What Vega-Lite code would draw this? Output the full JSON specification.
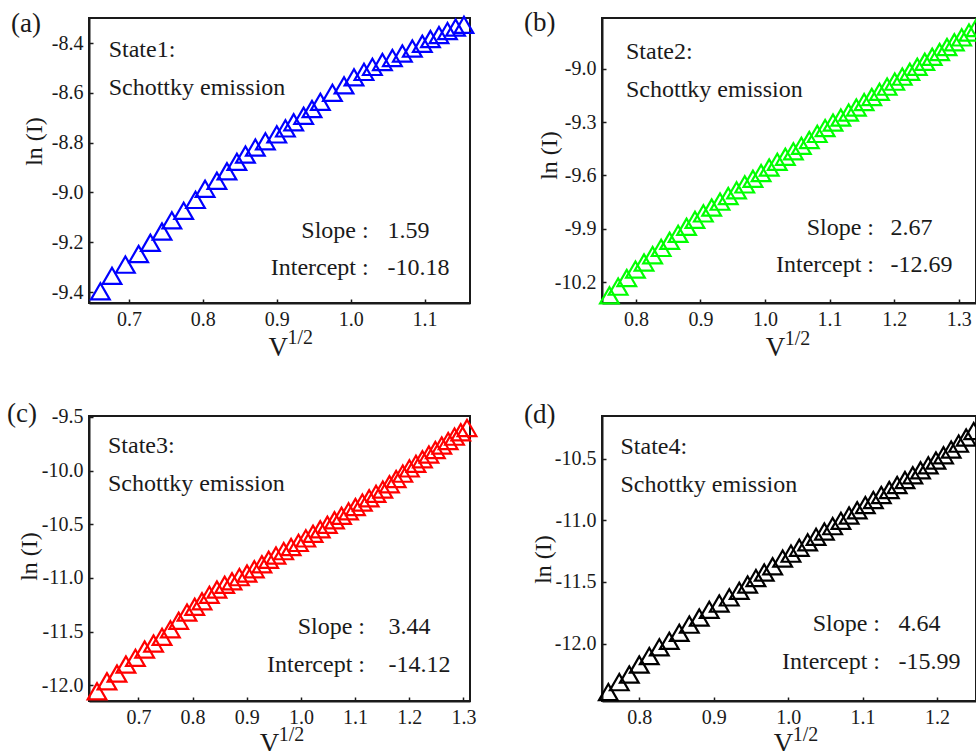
{
"$schema": "https://vega.github.io/schema/vega-lite/v6.json",
"padding": {"left": 6, "top": 8, "right": 0, "bottom": 0},
"background": "white",
"columns": 2,
"spacing": {"row": 113, "column": 132},
"bounds": "flush",
"align": "each",
"config": {
 "font": "Liberation Serif",
 "view": {"stroke": "#1a1a1a", "strokeWidth": 2},
 "axis": {"grid": false, "domainColor": "#1a1a1a", "domainWidth": 2, "tickColor": "#1a1a1a", "tickWidth": 1.5, "tickSize": -4, "labelFont": "Liberation Serif", "labelFontSize": 20, "labelColor": "#1a1a1a", "labelFlush": false, "labelOverlap": false, "titleFont": "Liberation Serif", "titleFontWeight": "normal", "titleColor": "#1a1a1a", "titlePadding": 0, "labelExpr": "replace(datum.label, '−', '-')"},
 "axisX": {"labelPadding": 10, "titleFontSize": 27, "titleBaseline": "alphabetic"},
 "axisY": {"labelPadding": 10, "titleFontSize": 24},
 "text": {"font": "Liberation Serif", "fontSize": 24, "color": "#1a1a1a", "baseline": "alphabetic", "align": "left"},
 "title": {"font": "Liberation Serif", "fontSize": 27, "fontWeight": "normal", "color": "#1a1a1a", "anchor": "start", "frame": "group", "offset": 0, "baseline": "alphabetic"}
},
"concat": [
 {
  "width": 381, "height": 285,
  "title": {"text": "(a)", "dx": -78, "dy": 30},
  "layer": [
   {
    "data": {"values": [
     {"x":0.6613,"y":-9.397},{"x":0.677,"y":-9.335},{"x":0.6951,"y":-9.290},{"x":0.7131,"y":-9.247},{"x":0.729,"y":-9.202},{"x":0.7447,"y":-9.157},{"x":0.758,"y":-9.112},{"x":0.774,"y":-9.074},{"x":0.790,"y":-9.030},{"x":0.803,"y":-8.985},{"x":0.819,"y":-8.953},{"x":0.8326,"y":-8.915},{"x":0.846,"y":-8.877},{"x":0.8576,"y":-8.848},{"x":0.871,"y":-8.820},{"x":0.8846,"y":-8.795},{"x":0.900,"y":-8.767},{"x":0.9117,"y":-8.743},{"x":0.9229,"y":-8.718},{"x":0.9364,"y":-8.692},{"x":0.9477,"y":-8.665},{"x":0.959,"y":-8.636},{"x":0.9753,"y":-8.600},{"x":0.991,"y":-8.570},{"x":1.0045,"y":-8.538},{"x":1.018,"y":-8.516},{"x":1.0294,"y":-8.496},{"x":1.043,"y":-8.476},{"x":1.0565,"y":-8.460},{"x":1.07,"y":-8.442},{"x":1.0835,"y":-8.422},{"x":1.097,"y":-8.403},{"x":1.108,"y":-8.384},{"x":1.1195,"y":-8.368},{"x":1.131,"y":-8.352},{"x":1.142,"y":-8.338},{"x":1.1533,"y":-8.327}
    ]},
    "mark": {"type": "point", "shape": "triangle-up", "filled": false, "size": 350, "strokeWidth": 2.2, "color": "#0000ff", "opacity": 1},
    "encoding": {
     "x": {"field": "x", "type": "quantitative", "scale": {"domain": [0.6459, 1.1615], "nice": false, "zero": false}, "axis": {"values": [0.7, 0.8, 0.9, 1.0, 1.1], "format": ".1f", "title": "V", "titleX": 188.7, "titleY": 52}},
     "y": {"field": "y", "type": "quantitative", "scale": {"domain": [-9.444, -8.2996], "nice": false, "zero": false}, "axis": {"values": [-9.4, -9.2, -9.0, -8.8, -8.6, -8.4], "format": ".1f", "title": "ln (I)", "titleX": -43, "titleY": 123}}
    }
   },
   {"data": {"values": [{}]}, "mark": {"type": "text", "lineHeight": 38}, "encoding": {"x": {"datum": 0.67256}, "y": {"datum": -8.4562}, "text": {"value": ["State1:", "Schottky emission"]}}},
   {"data": {"values": [{}]}, "mark": {"type": "text", "align": "right", "lineHeight": 37}, "encoding": {"x": {"datum": 1.02439}, "y": {"datum": -9.183}, "text": {"value": ["Slope :", "Intercept :"]}}},
   {"data": {"values": [{}]}, "mark": {"type": "text", "lineHeight": 37}, "encoding": {"x": {"datum": 1.04982}, "y": {"datum": -9.183}, "text": {"value": ["1.59", "-10.18"]}}},
   {"data": {"values": [{}]}, "mark": {"type": "text", "fontSize": 20}, "encoding": {"x": {"datum": 0.91444}, "y": {"datum": -9.6086}, "text": {"value": "1/2"}}}
  ]
 },
 {
  "width": 374, "height": 285,
  "title": {"text": "(b)", "dx": -78, "dy": 26},
  "layer": [
   {
    "data": {"values": [
     {"x":0.759,"y":-10.275},{"x":0.7725,"y":-10.226},{"x":0.7859,"y":-10.177},{"x":0.7993,"y":-10.130},{"x":0.8126,"y":-10.090},{"x":0.8259,"y":-10.049},{"x":0.8391,"y":-10.008},{"x":0.8523,"y":-9.968},{"x":0.8654,"y":-9.929},{"x":0.8785,"y":-9.889},{"x":0.8915,"y":-9.850},{"x":0.9045,"y":-9.814},{"x":0.9174,"y":-9.781},{"x":0.9303,"y":-9.748},{"x":0.9431,"y":-9.716},{"x":0.9559,"y":-9.684},{"x":0.9686,"y":-9.651},{"x":0.9813,"y":-9.619},{"x":0.9939,"y":-9.587},{"x":1.0065,"y":-9.556},{"x":1.0190,"y":-9.524},{"x":1.0315,"y":-9.495},{"x":1.0439,"y":-9.465},{"x":1.0563,"y":-9.434},{"x":1.0686,"y":-9.401},{"x":1.0809,"y":-9.367},{"x":1.0931,"y":-9.334},{"x":1.1053,"y":-9.303},{"x":1.1174,"y":-9.275},{"x":1.1295,"y":-9.247},{"x":1.1415,"y":-9.218},{"x":1.1535,"y":-9.188},{"x":1.1654,"y":-9.159},{"x":1.1773,"y":-9.130},{"x":1.1891,"y":-9.101},{"x":1.2009,"y":-9.073},{"x":1.2126,"y":-9.045},{"x":1.2243,"y":-9.017},{"x":1.2359,"y":-8.989},{"x":1.2475,"y":-8.961},{"x":1.2590,"y":-8.933},{"x":1.2705,"y":-8.906},{"x":1.2819,"y":-8.878},{"x":1.2933,"y":-8.851},{"x":1.3046,"y":-8.824},{"x":1.3159,"y":-8.797},{"x":1.3268,"y":-8.771}
    ]},
    "mark": {"type": "point", "shape": "triangle-up", "filled": false, "size": 350, "strokeWidth": 2.2, "color": "#00ff00", "opacity": 1},
    "encoding": {
     "x": {"field": "x", "type": "quantitative", "scale": {"domain": [0.7475, 1.3268], "nice": false, "zero": false}, "axis": {"values": [0.8, 0.9, 1.0, 1.1, 1.2, 1.3], "format": ".1f", "title": "V", "titleX": 173, "titleY": 52}},
     "y": {"field": "y", "type": "quantitative", "scale": {"domain": [-10.318, -8.715], "nice": false, "zero": false}, "axis": {"values": [-10.2, -9.9, -9.6, -9.3, -9.0], "format": ".1f", "title": "ln (I)", "titleX": -41, "titleY": 137}}
    }
   },
   {"data": {"values": [{}]}, "mark": {"type": "text", "lineHeight": 38}, "encoding": {"x": {"datum": 0.78467}, "y": {"datum": -8.9473}, "text": {"value": ["State2:", "Schottky emission"]}}},
   {"data": {"values": [{}]}, "mark": {"type": "text", "align": "right", "lineHeight": 37}, "encoding": {"x": {"datum": 1.16881}, "y": {"datum": -9.9338}, "text": {"value": ["Slope :", "Intercept :"]}}},
   {"data": {"values": [{}]}, "mark": {"type": "text", "lineHeight": 37}, "encoding": {"x": {"datum": 1.19437}, "y": {"datum": -9.9338}, "text": {"value": ["2.67", "-12.69"]}}},
   {"data": {"values": [{}]}, "mark": {"type": "text", "fontSize": 20}, "encoding": {"x": {"datum": 1.03057}, "y": {"datum": -10.5541}, "text": {"value": "1/2"}}}
  ]
 },
 {
  "width": 381, "height": 285,
  "title": {"text": "(c)", "dx": -82, "dy": 25.5},
  "layer": [
   {
    "data": {"values": [
     {"x":0.6236,"y":-12.055},{"x":0.642,"y":-11.962},{"x":0.6605,"y":-11.890},{"x":0.677,"y":-11.806},{"x":0.6945,"y":-11.744},{"x":0.7116,"y":-11.666},{"x":0.728,"y":-11.610},{"x":0.7436,"y":-11.548},{"x":0.759,"y":-11.478},{"x":0.7744,"y":-11.398},{"x":0.7897,"y":-11.322},{"x":0.804,"y":-11.268},{"x":0.8174,"y":-11.216},{"x":0.831,"y":-11.157},{"x":0.845,"y":-11.107},{"x":0.8593,"y":-11.063},{"x":0.8728,"y":-11.030},{"x":0.8864,"y":-10.992},{"x":0.9005,"y":-10.958},{"x":0.914,"y":-10.918},{"x":0.928,"y":-10.872},{"x":0.9405,"y":-10.830},{"x":0.954,"y":-10.790},{"x":0.9682,"y":-10.750},
     {"x":0.9819,"y":-10.711},{"x":0.9955,"y":-10.673},{"x":1.0090,"y":-10.631},{"x":1.0224,"y":-10.588},{"x":1.0357,"y":-10.546},{"x":1.0489,"y":-10.504},{"x":1.0620,"y":-10.462},{"x":1.0750,"y":-10.420},{"x":1.0879,"y":-10.379},{"x":1.1007,"y":-10.338},{"x":1.1134,"y":-10.297},{"x":1.1260,"y":-10.257},{"x":1.1386,"y":-10.216},{"x":1.1511,"y":-10.176},{"x":1.1635,"y":-10.126},{"x":1.1758,"y":-10.077},{"x":1.1880,"y":-10.028},{"x":1.2002,"y":-9.979},{"x":1.2123,"y":-9.936},{"x":1.2243,"y":-9.893},{"x":1.2363,"y":-9.849},{"x":1.2482,"y":-9.807},{"x":1.2600,"y":-9.765},{"x":1.2718,"y":-9.724},{"x":1.2835,"y":-9.683},{"x":1.2951,"y":-9.642},{"x":1.3066,"y":-9.602}
    ]},
    "mark": {"type": "point", "shape": "triangle-up", "filled": false, "size": 350, "strokeWidth": 2.2, "color": "#ff0000", "opacity": 1},
    "encoding": {
     "x": {"field": "x", "type": "quantitative", "scale": {"domain": [0.6088, 1.3121], "nice": false, "zero": false}, "axis": {"values": [0.7, 0.8, 0.9, 1.0, 1.1, 1.2, 1.3], "format": ".1f", "title": "V", "titleX": 180, "titleY": 50}},
     "y": {"field": "y", "type": "quantitative", "scale": {"domain": [-12.146, -9.4907], "nice": false, "zero": false}, "axis": {"values": [-12.0, -11.5, -11.0, -10.5, -10.0, -9.5], "format": ".1f", "title": "ln (I)", "titleX": -48, "titleY": 140}}
    }
   },
   {"data": {"values": [{}]}, "mark": {"type": "text", "lineHeight": 38}, "encoding": {"x": {"datum": 0.64387}, "y": {"datum": -9.8327}, "text": {"value": ["State3:", "Schottky emission"]}}},
   {"data": {"values": [{}]}, "mark": {"type": "text", "align": "right", "lineHeight": 38}, "encoding": {"x": {"datum": 1.11831}, "y": {"datum": -11.5196}, "text": {"value": ["Slope :", "Intercept :"]}}},
   {"data": {"values": [{}]}, "mark": {"type": "text", "lineHeight": 38}, "encoding": {"x": {"datum": 1.16169}, "y": {"datum": -11.5196}, "text": {"value": ["3.44", "-14.12"]}}},
   {"data": {"values": [{}]}, "mark": {"type": "text", "fontSize": 20}, "encoding": {"x": {"datum": 0.95909}, "y": {"datum": -12.52}, "text": {"value": "1/2"}}}
  ]
 },
 {
  "width": 374, "height": 285,
  "title": {"text": "(d)", "dx": -78, "dy": 16.5},
  "layer": [
   {
    "data": {"values": [
     {"x":0.7584,"y":-12.393},{"x":0.7731,"y":-12.312},{"x":0.7866,"y":-12.250},{"x":0.80,"y":-12.169},{"x":0.8134,"y":-12.101},{"x":0.8269,"y":-12.030},{"x":0.8403,"y":-11.977},{"x":0.8537,"y":-11.912},{"x":0.8672,"y":-11.846},{"x":0.8806,"y":-11.788},{"x":0.894,"y":-11.726},{"x":0.9075,"y":-11.674},{"x":0.9209,"y":-11.625},{"x":0.9343,"y":-11.572},{"x":0.9456,"y":-11.520},{"x":0.9567,"y":-11.468},{"x":0.9679,"y":-11.423},{"x":0.9792,"y":-11.372},{"x":0.9926,"y":-11.310},{"x":1.0038,"y":-11.270},{"x":1.015,"y":-11.222},
     {"x":1.0262,"y":-11.178},{"x":1.0375,"y":-11.134},{"x":1.0487,"y":-11.090},{"x":1.0598,"y":-11.047},{"x":1.0709,"y":-11.004},{"x":1.0819,"y":-10.961},{"x":1.0928,"y":-10.918},{"x":1.1037,"y":-10.876},{"x":1.1145,"y":-10.835},{"x":1.1252,"y":-10.794},{"x":1.1359,"y":-10.754},{"x":1.1465,"y":-10.713},{"x":1.1570,"y":-10.673},{"x":1.1675,"y":-10.634},{"x":1.1779,"y":-10.594},{"x":1.1883,"y":-10.554},{"x":1.1986,"y":-10.515},{"x":1.2088,"y":-10.472},{"x":1.2190,"y":-10.426},{"x":1.2291,"y":-10.378},{"x":1.2392,"y":-10.328},{"x":1.2493,"y":-10.276}
    ]},
    "mark": {"type": "point", "shape": "triangle-up", "filled": false, "size": 350, "strokeWidth": 2.2, "color": "#000000", "opacity": 1},
    "encoding": {
     "x": {"field": "x", "type": "quantitative", "scale": {"domain": [0.7499, 1.2524], "nice": false, "zero": false}, "axis": {"values": [0.8, 0.9, 1.0, 1.1, 1.2], "format": ".1f", "title": "V", "titleX": 181, "titleY": 50}},
     "y": {"field": "y", "type": "quantitative", "scale": {"domain": [-12.465, -10.154], "nice": false, "zero": false}, "axis": {"values": [-12.0, -11.5, -11.0, -10.5], "format": ".1f", "title": "ln (I)", "titleX": -47, "titleY": 143}}
    }
   },
   {"data": {"values": [{}]}, "mark": {"type": "text", "lineHeight": 38}, "encoding": {"x": {"datum": 0.77475}, "y": {"datum": -10.4646}, "text": {"value": ["State4:", "Schottky emission"]}}},
   {"data": {"values": [{}]}, "mark": {"type": "text", "align": "right", "lineHeight": 38}, "encoding": {"x": {"datum": 1.12341}, "y": {"datum": -11.8996}, "text": {"value": ["Slope :", "Intercept :"]}}},
   {"data": {"values": [{}]}, "mark": {"type": "text", "lineHeight": 38}, "encoding": {"x": {"datum": 1.14826}, "y": {"datum": -11.8996}, "text": {"value": ["4.64", "-15.99"]}}},
   {"data": {"values": [{}]}, "mark": {"type": "text", "fontSize": 20}, "encoding": {"x": {"datum": 1.00618}, "y": {"datum": -12.79}, "text": {"value": "1/2"}}}
  ]
 }
]
}
